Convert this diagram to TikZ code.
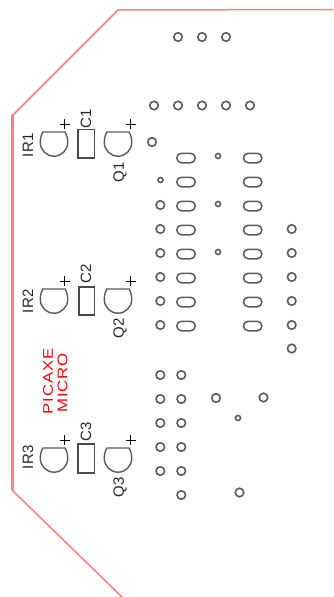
\documentclass[tikz,border=0pt]{standalone}
\usepackage{fontspec}
\setmainfont{Liberation Sans}
\definecolor{edgered}{HTML}{FF7F7F}
\definecolor{padgray}{HTML}{5A5A5A}
\definecolor{silkgray}{HTML}{4A4A4A}
\tikzset{x=1pt,y=1pt,
hole/.style={circle,draw=padgray,line width=1.6pt,minimum size=8.5pt,inner sep=0pt},
via/.style={circle,draw=padgray,line width=1.6pt,minimum size=5pt,inner sep=0pt},
pill/.style={rectangle,draw=padgray,line width=1.5pt,minimum width=18.5pt,minimum height=9.5pt,rounded corners=4.7pt,inner sep=0pt},
silk/.style={rotate=90,inner sep=0pt,text=black!85,font=\fontsize{15}{15}\selectfont\addfontfeature{LetterSpace=3}},
brand/.style={rotate=90,inner sep=0pt,text=red,font=\fontsize{14}{14}\selectfont\addfontfeature{FakeStretch=1.2,LetterSpace=6}},
dome/.style={draw=padgray,line width=1.4pt},
capbox/.style={draw=silkgray,line width=1.1pt}}

\begin{document}
\begin{tikzpicture}
\useasboundingbox (0,0) rectangle (333,-597);
% board edge
\draw[edgered,line width=1.5pt] (333,-9.5) -- (118,-10) -- (12,-116);
\draw[edgered,line width=1.5pt] (12,-490) -- (122,-597);
\draw[edgered,line width=3pt] (12,-115) -- (12,-490);
% sensors, capacitors and transistors
\foreach \n/\ya/\yb/\yc/\yd/\yq/\yl/\xc in {1/132/129.5/118.5/145/172/158/78,2/289/287/274/301/328/315/79,3/448/444/432/457/487/473/78}{
  \draw[dome] (43,-\ya) -- (65,-\ya) .. controls (67,-\ya-3) and (67.7,-\ya-7) .. (67.7,-\ya-10.5) arc (0:-180:13.7) .. controls (40.3,-\ya-7) and (41,-\ya-3) .. cycle;
  \draw[dome] (107,-\ya) -- (129,-\ya) .. controls (131,-\ya-3) and (131.7,-\ya-7) .. (131.7,-\ya-10.5) arc (0:-180:13.7) .. controls (104.3,-\ya-7) and (105,-\ya-3) .. cycle;
  \draw[black,line width=1pt] (59.5,-\ya+8) -- (69.5,-\ya+8) (64.5,-\ya+3) -- (64.5,-\ya+13);
  \draw[black,line width=1pt] (125.5,-\ya+8) -- (135.5,-\ya+8) (130.5,-\ya+3) -- (130.5,-\ya+13);
  \draw[capbox] (\xc,-\yb) rectangle (94.5,-\yl);
  \node[silk] (IR\n) at (28,-\yd) {IR\n};
  \node[silk] (C\n) at (86,-\yc) {C\n};
  \node[silk] (Q\n) at (120,-\yq) {Q\n};
}
\node[brand] (PA) at (48,-381.5) {PICAXE};
\node[brand] (MI) at (62.5,-383) {MICRO};
% top rows
\foreach \x in {178,202,226} \node[hole] (T\x) at (\x,-37) {};
\foreach \x in {154,178,202,226,250} \node[hole] (U\x) at (\x,-105.5) {};
\node[hole] (K) at (152,-142) {};
% chip
\foreach \y in {158,182,206,230,254,278,302,326}{
  \node[pill] (L\y) at (186,-\y) {};
  \node[pill] (R\y) at (252.7,-\y) {};
}
\node[via] (V0) at (160.5,-180) {};
\foreach \y in {205,229,253,277,301,325} \node[hole] (A\y) at (160.3,-\y) {};
\foreach \y in {156,204,252} \node[via] (B\y) at (218,-\y) {};
\foreach \y in {229,253,277,301,325,348.5} \node[hole] (D\y) at (291.7,-\y) {};
% lower block
\foreach \y in {375,399,423,447,471}{
  \node[hole] (E\y) at (160.3,-\y) {};
  \node[hole] (F\y) at (181.3,-\y) {};
}
\node[hole] (G1) at (181.3,-495) {};
\node[hole] (G2) at (216,-398) {};
\node[hole] (G3) at (263.5,-397.5) {};
\node[via] (G4) at (238,-418) {};
\node[hole] (G5) at (239.5,-492.5) {};
\end{tikzpicture}
\end{document}
